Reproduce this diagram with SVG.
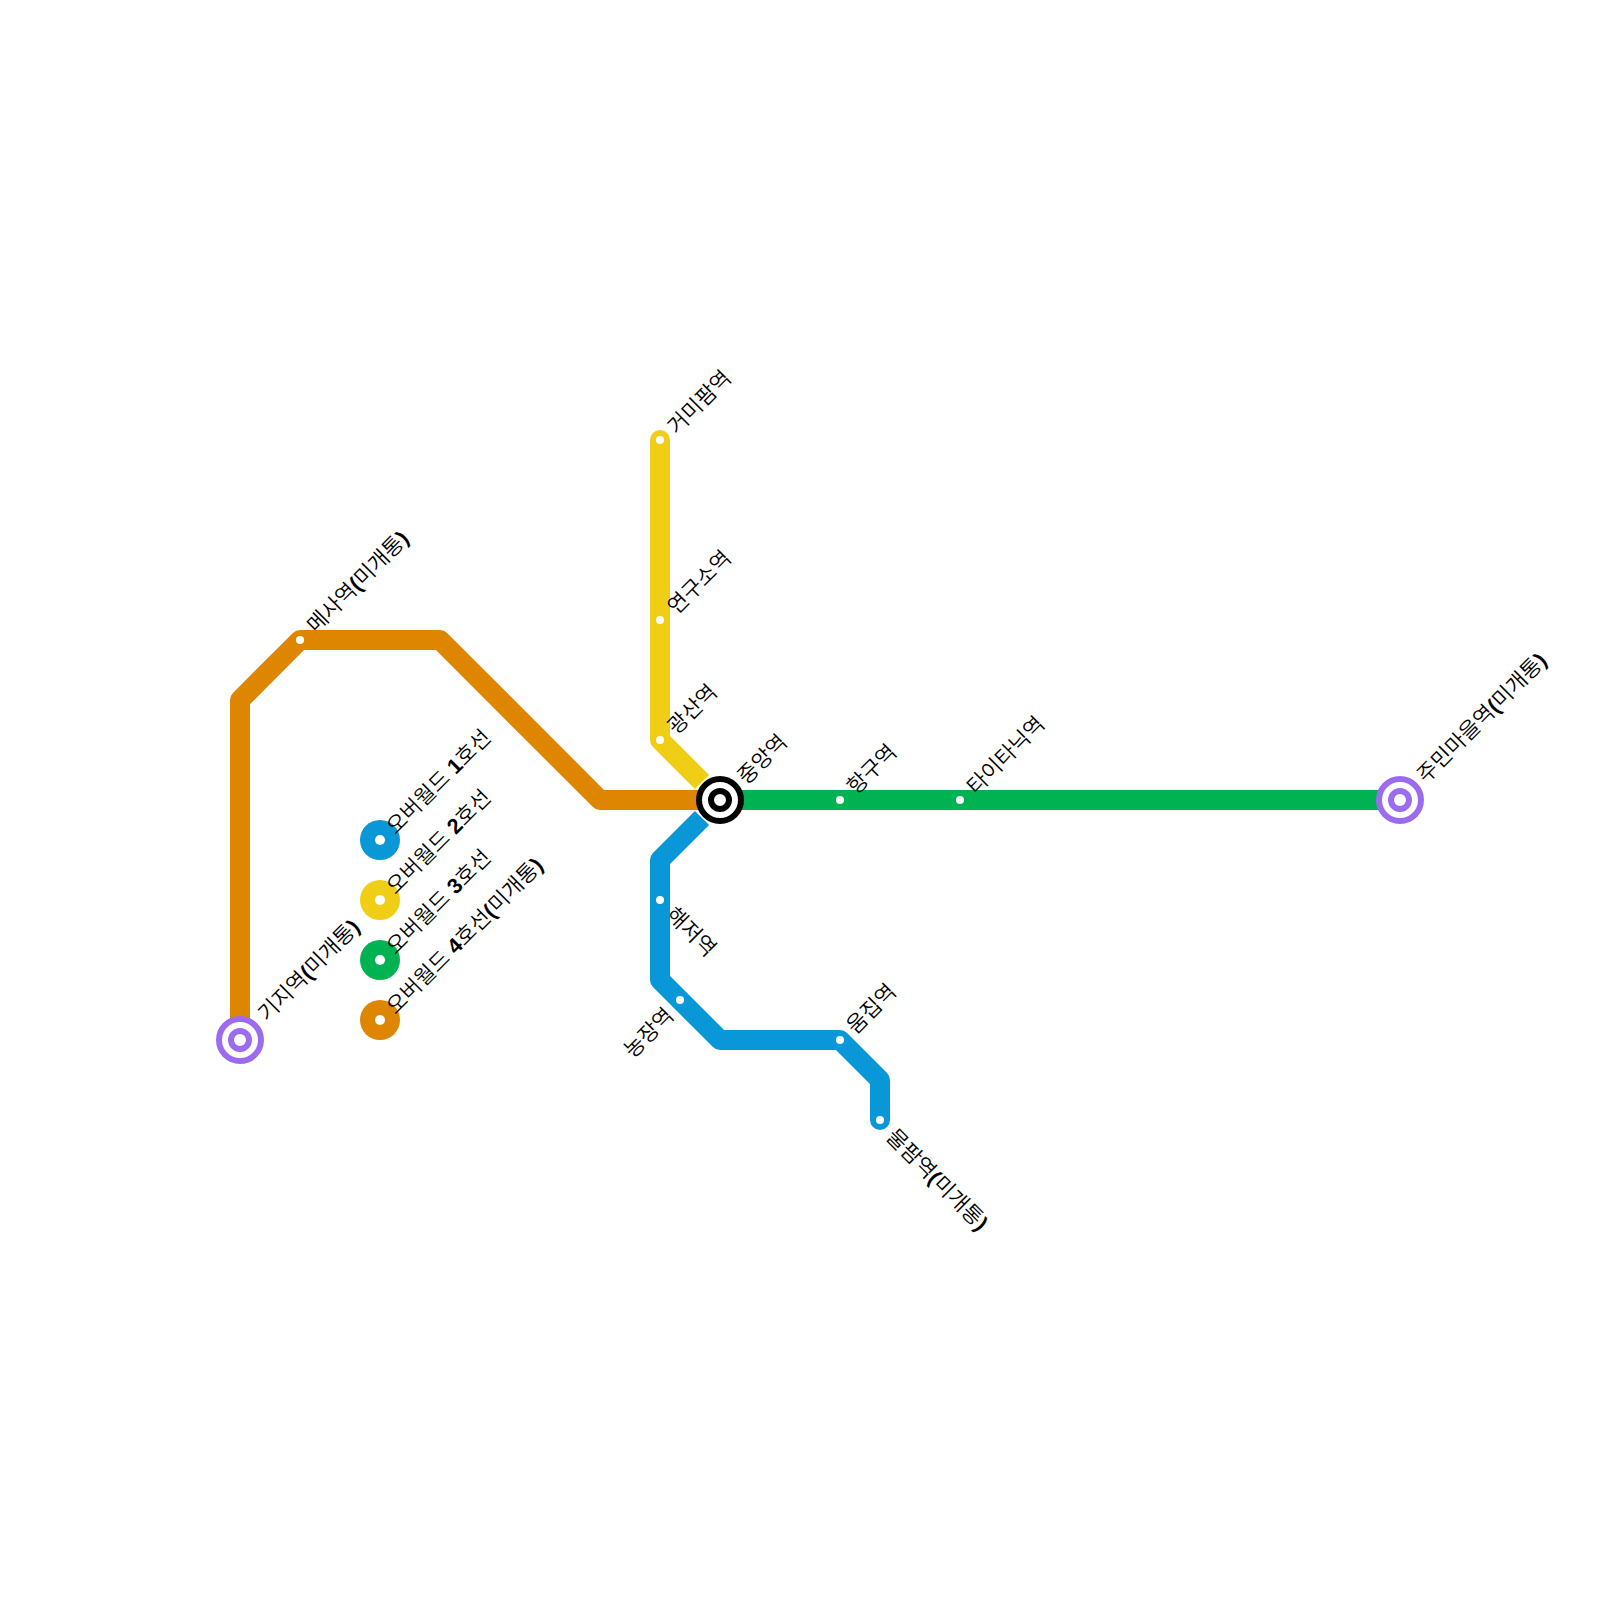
<svg xmlns="http://www.w3.org/2000/svg" width="1600" height="1600" viewBox="0 0 1600 1600">
<style>
.l{fill:none;stroke-width:20;stroke-linejoin:round}
.d{fill:#fff}
.o{fill:#fff;stroke-width:6}
text{font-family:"Liberation Sans","Noto Sans CJK KR",sans-serif;font-size:21.5px;font-weight:350;fill:#000}
.b{font-weight:bold}
</style>
<rect width="1600" height="1600" fill="#fff"/>
<g id="connectors">
<path class="l" stroke="#f0ce15" stroke-linecap="round" d="M660 440V500" />
<path class="l" stroke="#f0ce15" d="M660 480V740L702 782"/>
<path class="l" stroke="#df8600" d="M240 1040V700L300 640H440L600 800H720"/>
<path class="l" stroke="#0997d7" d="M702 818L660 860V980L720 1040H840L880 1080V1110"/>
<path class="l" stroke="#0997d7" stroke-linecap="round" d="M880 1100V1120"/>
<path class="l" stroke="#00b251" d="M720 800H1400"/>
</g>
<g id="st-geomipam"><circle class="d" cx="660" cy="440" r="4"/><text transform="translate(676.5 435.5) rotate(-45)">거미팜역</text></g>
<g id="st-yeonguso"><circle class="d" cx="660" cy="620" r="4"/><text transform="translate(676.5 615.5) rotate(-45)">연구소역</text></g>
<g id="st-gwangsan"><circle class="d" cx="660" cy="740" r="4"/><text transform="translate(676.5 735.5) rotate(-45)">광산역</text></g>
<g id="st-jungang"><circle class="o" cx="720" cy="800" r="21" stroke="#000"/><circle class="o" cx="720" cy="800" r="9" stroke="#000"/><text transform="translate(746.5 785.5) rotate(-45)">중앙역</text></g>
<g id="st-hanggu"><circle class="d" cx="840" cy="800" r="4"/><text transform="translate(856 795.5) rotate(-45)">항구역</text></g>
<g id="st-titanic"><circle class="d" cx="960" cy="800" r="4"/><text transform="translate(976 795.5) rotate(-45)">타이타닉역</text></g>
<g id="st-jumin"><circle class="o" cx="1400" cy="800" r="21" stroke="#9b6cf0"/><circle class="o" cx="1400" cy="800" r="9" stroke="#9b6cf0"/><text transform="translate(1426 784) rotate(-45)">주민마을역<tspan class="b">(</tspan>미개통<tspan class="b">)</tspan></text></g>
<g id="st-gijiyeok"><circle class="o" cx="240" cy="1040" r="21" stroke="#9b6cf0"/><circle class="o" cx="240" cy="1040" r="9" stroke="#9b6cf0"/><text transform="translate(267 1022.5) rotate(-45)">기지역<tspan class="b">(</tspan>미개통<tspan class="b">)</tspan></text></g>
<g id="st-mesa"><circle class="d" cx="300" cy="640" r="4"/><text transform="translate(316 634) rotate(-45)">메사역<tspan class="b">(</tspan>미개통<tspan class="b">)</tspan></text></g>
<g id="st-haejeo"><circle class="d" cx="660" cy="900" r="4"/><text transform="translate(665 916) rotate(45)">해저역</text></g>
<g id="st-nongjang"><circle class="d" cx="680" cy="1000" r="4"/><text text-anchor="end" transform="translate(675 1017) rotate(-45)">농장역</text></g>
<g id="st-umjip"><circle class="d" cx="840" cy="1040" r="4"/><text transform="translate(855.5 1035) rotate(-45)">움집역</text></g>
<g id="st-mulpam"><circle class="d" cx="880" cy="1120" r="4"/><text transform="translate(885 1138) rotate(45)">물팜역<tspan class="b">(</tspan>미개통<tspan class="b">)</tspan></text></g>
<g id="legend-1"><circle cx="380" cy="840" r="20" fill="#0997d7"/><circle class="d" cx="380" cy="840" r="5"/><text transform="translate(395.5 835.5) rotate(-45)">오버월드 <tspan class="b">1</tspan>호선</text></g>
<g id="legend-2"><circle cx="380" cy="900" r="20" fill="#f0ce15"/><circle class="d" cx="380" cy="900" r="5"/><text transform="translate(395.5 895.5) rotate(-45)">오버월드 <tspan class="b">2</tspan>호선</text></g>
<g id="legend-3"><circle cx="380" cy="960" r="20" fill="#00b251"/><circle class="d" cx="380" cy="960" r="5"/><text transform="translate(395.5 955.5) rotate(-45)">오버월드 <tspan class="b">3</tspan>호선</text></g>
<g id="legend-4"><circle cx="380" cy="1020" r="20" fill="#df8600"/><circle class="d" cx="380" cy="1020" r="5"/><text transform="translate(395.5 1015.5) rotate(-45)">오버월드 <tspan class="b">4</tspan>호선<tspan class="b">(</tspan>미개통<tspan class="b">)</tspan></text></g>
</svg>
